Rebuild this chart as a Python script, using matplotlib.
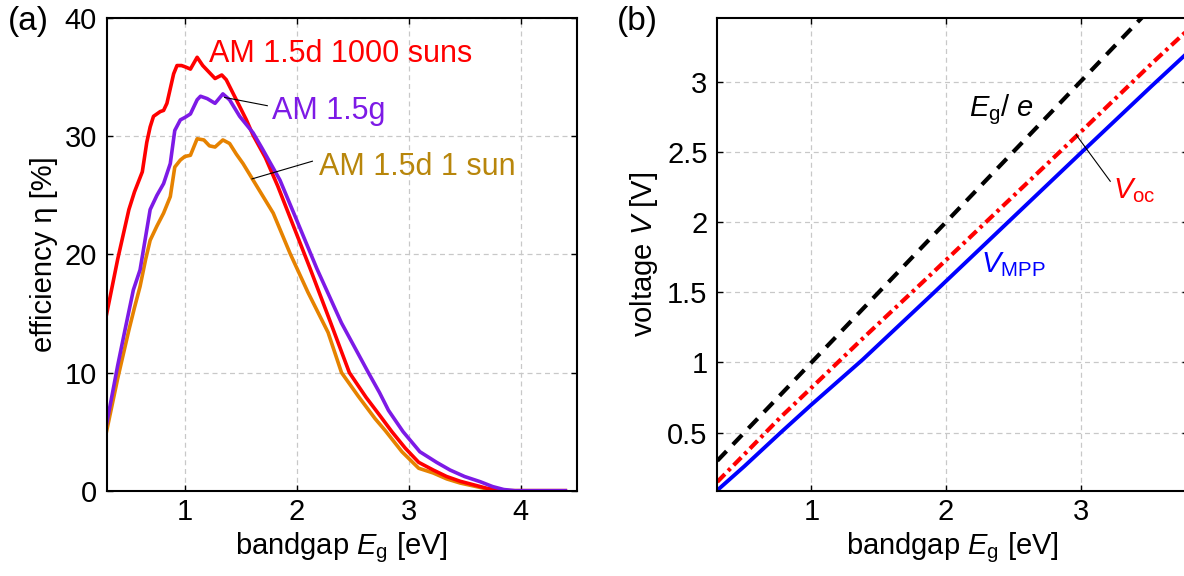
import matplotlib
matplotlib.use("Agg")
import matplotlib.pyplot as plt

plt.rcParams['font.family'] = ['Liberation Sans', 'DejaVu Sans']
plt.rcParams['mathtext.fontset'] = 'custom'
plt.rcParams['mathtext.rm'] = 'Liberation Sans'
plt.rcParams['mathtext.it'] = 'Liberation Sans:italic'
plt.rcParams['mathtext.bf'] = 'Liberation Sans:bold'

# ---------------- data: panel (a) ----------------
eg_red = [0.30, 0.40, 0.50, 0.55, 0.62, 0.66, 0.69, 0.72, 0.78, 0.81, 0.84, 0.90, 0.93, 0.97,
          1.00, 1.05, 1.11, 1.16, 1.20, 1.27, 1.33, 1.37, 1.46, 1.55, 1.61, 1.72, 1.83, 2.00,
          2.12, 2.30, 2.47, 2.62, 2.74, 2.85, 2.97, 3.09, 3.22, 3.34, 3.46, 3.58, 3.70, 3.80,
          3.90, 4.00, 4.40]
eta_red = [14.9, 19.6, 23.8, 25.3, 27.0, 29.5, 30.8, 31.7, 32.1, 32.2, 32.8, 35.3, 36.0, 36.0,
           35.9, 35.7, 36.7, 36.0, 35.6, 34.9, 35.2, 34.8, 33.1, 31.4, 30.1, 28.2, 25.8, 21.7,
           18.8, 14.3, 10.0, 7.9, 6.4, 5.0, 3.6, 2.4, 1.75, 1.2, 0.8, 0.5, 0.2, 0.05,
           0.0, 0.0, 0.0]

eg_pur = [0.30, 0.40, 0.465, 0.54, 0.60, 0.69, 0.75, 0.81, 0.87, 0.91, 0.96, 1.00, 1.05, 1.11,
          1.14, 1.20, 1.27, 1.34, 1.40, 1.49, 1.61, 1.69, 1.85, 2.00, 2.18, 2.40, 2.64, 2.74,
          2.82, 2.95, 3.10, 3.25, 3.37, 3.50, 3.64, 3.75, 3.85, 3.95, 4.40]
eta_pur = [5.6, 10.6, 13.6, 17.0, 18.7, 23.8, 25.0, 26.0, 27.7, 30.5, 31.4, 31.6, 31.9, 33.1,
           33.4, 33.2, 32.8, 33.6, 33.1, 31.7, 30.3, 29.0, 26.3, 22.9, 18.8, 14.2, 10.0, 8.3,
           6.8, 5.0, 3.3, 2.4, 1.75, 1.2, 0.76, 0.35, 0.1, 0.0, 0.0]

eg_ora = [0.30, 0.40, 0.50, 0.55, 0.60, 0.65, 0.69, 0.75, 0.81, 0.87, 0.91, 0.96, 1.00, 1.05,
          1.11, 1.17, 1.22, 1.27, 1.34, 1.40, 1.46, 1.52, 1.61, 1.70, 1.79, 1.94, 2.10, 2.28,
          2.40, 2.55, 2.70, 2.79, 2.94, 3.09, 3.22, 3.34, 3.46, 3.58, 3.70, 3.80, 3.90, 4.40]
eta_ora = [5.0, 9.5, 13.6, 15.5, 17.3, 19.6, 21.2, 22.4, 23.5, 24.9, 27.4, 28.0, 28.3, 28.4,
           29.8, 29.7, 29.2, 29.1, 29.7, 29.4, 28.5, 27.7, 26.3, 24.9, 23.5, 20.1, 16.8, 13.4,
           10.0, 8.0, 6.1, 5.1, 3.3, 1.9, 1.5, 1.0, 0.65, 0.4, 0.15, 0.03, 0.0, 0.0]

labels_a = ["AM 1.5d 1000 suns", "AM 1.5g", "AM 1.5d 1 sun"]
xticks_a = [1, 2, 3, 4]
yticks_a = [0, 10, 20, 30, 40]

# ---------------- data: panel (b) ----------------
eg_b = [0.30, 0.50, 0.77, 1.00, 1.38, 1.88, 2.44, 3.00, 3.53, 3.80]
v_eg = [0.30, 0.50, 0.77, 1.00, 1.38, 1.88, 2.44, 3.00, 3.53, 3.80]
v_oc = [0.15, 0.345, 0.61, 0.82, 1.17, 1.62, 2.13, 2.64, 3.13, 3.37]
v_mpp = [0.09, 0.26, 0.50, 0.70, 1.02, 1.47, 1.98, 2.49, 2.97, 3.21]
xticks_b = [1, 2, 3]
yticks_b = [0.5, 1, 1.5, 2, 2.5, 3]
yticklabels_b = ["0.5", "1", "1.5", "2", "2.5", "3"]

RED = '#FF0000'
PUR = '#7D1AE6'
ORA = '#E68200'
ORA_TXT = '#B8860B'
BLUE = '#0000FF'

W, H = 1184, 576
fig = plt.figure(figsize=(W / 100, H / 100), dpi=100)

axa = fig.add_axes([106.5 / W, (H - 490.7) / H, 470.0 / W, (490.7 - 18.3) / H])
axb = fig.add_axes([717.3 / W, (H - 490.7) / H, 471.0 / W, (490.7 - 18.3) / H])

grid_kw = dict(color='#C8C8C8', linestyle=(0, (4, 3)), linewidth=0.9)

def style(ax):
    ax.grid(True, **grid_kw)
    ax.set_axisbelow(True)
    for s in ax.spines.values():
        s.set_linewidth(1.5)
    ax.tick_params(direction='in', top=True, right=True, length=4, width=1.0,
                   labelsize=21, colors='black')
    ax.tick_params(axis='y', pad=7)
    ax.tick_params(axis='x', pad=5)

# ---- panel (a)
axa.plot(eg_ora, eta_ora, color=ORA, lw=2.6, solid_joinstyle='round')
axa.plot(eg_red, eta_red, color=RED, lw=2.6, solid_joinstyle='round')
axa.plot(eg_pur, eta_pur, color=PUR, lw=2.6, solid_joinstyle='round')
axa.set_xlim(0.3, 4.5)
axa.set_ylim(0, 40)
axa.set_xticks(xticks_a)
axa.set_yticks(yticks_a)
style(axa)
axa.set_xlabel(r'bandgap $E_\mathrm{g}$ [eV]', fontsize=21)
axa.set_ylabel('efficiency η [%]', fontsize=21)
axa.xaxis.set_label_coords(0.5, -0.083)
axa.yaxis.set_label_coords(-0.104, 0.5)

axa.text(1.22, 36.3, labels_a[0], color=RED, fontsize=22, ha='left', va='baseline')
axa.text(1.777, 31.5, labels_a[1], color=PUR, fontsize=22, ha='left', va='baseline')
axa.text(2.20, 26.7, labels_a[2], color=ORA_TXT, fontsize=22, ha='left', va='baseline')
lead_pur = ([1.355, 1.737], [33.3, 32.6])
lead_ora = ([1.60, 2.14], [26.4, 27.9])
axa.plot(*lead_pur, color='black', lw=0.8)
axa.plot(*lead_ora, color='black', lw=0.8)

# ---- panel (b)
axb.plot(eg_b, v_eg, color='black', lw=3.0, linestyle=(0, (3.2, 2.2)), dash_capstyle='butt')
axb.plot(eg_b, v_oc, color=RED, lw=3.0, linestyle=(0, (2.6, 1.1, 0.8, 1.1)))
axb.plot(eg_b, v_mpp, color=BLUE, lw=2.8)
axb.set_xlim(0.3, 3.8)
axb.set_ylim(0.087, 3.45)
axb.set_xticks(xticks_b)
axb.set_yticks(yticks_b)
axb.set_yticklabels(yticklabels_b)
style(axb)
axb.set_xlabel(r'bandgap $E_\mathrm{g}$ [eV]', fontsize=21)
axb.set_ylabel(r'voltage $V$ [V]', fontsize=21)
axb.xaxis.set_label_coords(0.5, -0.083)
axb.yaxis.set_label_coords(-0.122, 0.5)

axb.text(2.174, 2.75, r'$E_\mathrm{g}$/ $e$', color='black', fontsize=21, ha='left', va='baseline')
axb.text(3.24, 2.17, r'$V_\mathrm{oc}$', color=RED, fontsize=21, ha='left', va='baseline')
axb.text(2.258, 1.64, r'$V_\mathrm{MPP}$', color=BLUE, fontsize=21, ha='left', va='baseline')
lead_voc = ([2.967, 3.22], [2.62, 2.29])
axb.plot(*lead_voc, color='black', lw=0.8)

fig.text(7.5 / W, 1 - 6 / H, '(a)', fontsize=24, ha='left', va='top')
fig.text(616.5 / W, 1 - 6 / H, '(b)', fontsize=24, ha='left', va='top')

fig.savefig('out.png', dpi=100)
